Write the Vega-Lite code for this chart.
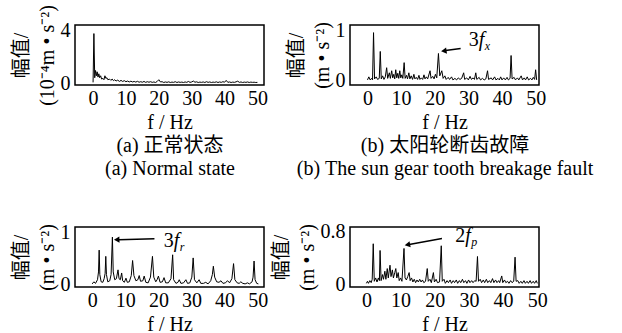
{
  "$schema": "https://vega.github.io/schema/vega-lite/v6.json",
  "background": "white",
  "padding": {"left": 10, "top": 3, "right": 5, "bottom": 5},
  "config": {
    "font": "Liberation Serif, DejaVu Serif, serif",
    "view": {"stroke": "#000", "strokeWidth": 1.5},
    "axis": {"grid": false, "ticks": false, "domain": false, "labelFont": "Liberation Serif, DejaVu Serif, serif", "labelFontSize": 20, "labelColor": "#000", "labelPadding": 3, "titleFont": "Liberation Serif, Noto Sans CJK SC, serif", "titleFontSize": 20, "titleFontWeight": "normal", "titleColor": "#000"},
    "axisX": {"titleLineHeight": 23, "titlePadding": 4},
    "axisY": {"titleLineHeight": 26, "titlePadding": 3, "labelPadding": 5},
    "line": {"color": "#000", "strokeWidth": 1}
  },
  "datasets": {
    "a": [{"f":0,"a":0.05},{"f":0.25,"a":3.75},{"f":0.5,"a":0.4},{"f":0.75,"a":0.95},{"f":1.0,"a":0.55},{"f":1.25,"a":0.85},{"f":1.5,"a":0.45},{"f":1.75,"a":0.7},{"f":2.0,"a":0.4},{"f":2.3,"a":0.55},{"f":2.6,"a":0.3},{"f":3.0,"a":0.35},{"f":3.3,"a":0.25},{"f":3.6,"a":0.55},{"f":3.9,"a":0.35},{"f":4.2,"a":0.4},{"f":4.5,"a":0.25},{"f":5.0,"a":0.3},{"f":5.4,"a":0.2},{"f":5.8,"a":0.3},{"f":6.2,"a":0.18},{"f":6.6,"a":0.25},{"f":7.0,"a":0.15},{"f":7.5,"a":0.22},{"f":8.0,"a":0.12},{"f":8.5,"a":0.2},{"f":9.0,"a":0.12},{"f":9.5,"a":0.18},{"f":10,"a":0.1},{"f":10.5,"a":0.15},{"f":11,"a":0.08},{"f":11.5,"a":0.14},{"f":12,"a":0.08},{"f":12.5,"a":0.12},{"f":13,"a":0.07},{"f":13.5,"a":0.13},{"f":14,"a":0.06},{"f":14.5,"a":0.1},{"f":15,"a":0.06},{"f":15.5,"a":0.12},{"f":16,"a":0.05},{"f":16.5,"a":0.1},{"f":17,"a":0.06},{"f":17.5,"a":0.1},{"f":18,"a":0.05},{"f":18.5,"a":0.08},{"f":19,"a":0.04},{"f":19.5,"a":0.12},{"f":20,"a":0.25},{"f":20.5,"a":0.08},{"f":21,"a":0.1},{"f":21.5,"a":0.04},{"f":22,"a":0.08},{"f":22.5,"a":0.05},{"f":23,"a":0.09},{"f":23.5,"a":0.04},{"f":24,"a":0.07},{"f":24.5,"a":0.05},{"f":25,"a":0.1},{"f":25.5,"a":0.04},{"f":26,"a":0.08},{"f":26.5,"a":0.05},{"f":27,"a":0.07},{"f":27.5,"a":0.04},{"f":28,"a":0.08},{"f":28.5,"a":0.05},{"f":29,"a":0.12},{"f":29.5,"a":0.05},{"f":30,"a":0.08},{"f":30.5,"a":0.15},{"f":31,"a":0.06},{"f":31.5,"a":0.09},{"f":32,"a":0.04},{"f":32.5,"a":0.07},{"f":33,"a":0.05},{"f":33.5,"a":0.08},{"f":34,"a":0.04},{"f":34.5,"a":0.1},{"f":35,"a":0.05},{"f":35.5,"a":0.08},{"f":36,"a":0.04},{"f":36.5,"a":0.07},{"f":37,"a":0.05},{"f":37.5,"a":0.09},{"f":38,"a":0.04},{"f":38.5,"a":0.08},{"f":39,"a":0.05},{"f":39.5,"a":0.1},{"f":40,"a":0.06},{"f":40.5,"a":0.2},{"f":41,"a":0.05},{"f":41.5,"a":0.08},{"f":42,"a":0.04},{"f":42.5,"a":0.07},{"f":43,"a":0.05},{"f":43.5,"a":0.09},{"f":44,"a":0.14},{"f":44.5,"a":0.05},{"f":45,"a":0.08},{"f":45.5,"a":0.04},{"f":46,"a":0.07},{"f":46.5,"a":0.05},{"f":47,"a":0.08},{"f":47.5,"a":0.04},{"f":48,"a":0.07},{"f":48.5,"a":0.05},{"f":49,"a":0.06},{"f":49.5,"a":0.04},{"f":50,"a":0.05}],
    "b": [{"f":0,"a":0.02},{"f":0.4,"a":0.08},{"f":0.8,"a":0.02},{"f":1.2,"a":0.05},{"f":1.5,"a":0.02},{"f":1.8,"a":0.95},{"f":2.1,"a":0.04},{"f":2.6,"a":0.08},{"f":3.0,"a":0.03},{"f":3.5,"a":0.05},{"f":3.8,"a":0.58},{"f":4.1,"a":0.04},{"f":4.5,"a":0.1},{"f":4.9,"a":0.03},{"f":5.3,"a":0.08},{"f":5.7,"a":0.26},{"f":6.0,"a":0.05},{"f":6.5,"a":0.16},{"f":6.8,"a":0.05},{"f":7.2,"a":0.2},{"f":7.5,"a":0.06},{"f":7.8,"a":0.13},{"f":8.1,"a":0.04},{"f":8.4,"a":0.22},{"f":8.7,"a":0.06},{"f":9.0,"a":0.15},{"f":9.3,"a":0.05},{"f":9.6,"a":0.2},{"f":9.9,"a":0.06},{"f":10.2,"a":0.12},{"f":10.5,"a":0.05},{"f":10.9,"a":0.36},{"f":11.2,"a":0.05},{"f":11.6,"a":0.11},{"f":11.9,"a":0.04},{"f":12.3,"a":0.16},{"f":12.6,"a":0.04},{"f":13.0,"a":0.1},{"f":13.4,"a":0.03},{"f":13.8,"a":0.13},{"f":14.1,"a":0.04},{"f":14.5,"a":0.07},{"f":14.9,"a":0.03},{"f":15.3,"a":0.11},{"f":15.6,"a":0.03},{"f":16.0,"a":0.06},{"f":16.4,"a":0.03},{"f":16.8,"a":0.12},{"f":17.1,"a":0.04},{"f":17.5,"a":0.08},{"f":17.9,"a":0.04},{"f":18.6,"a":0.2},{"f":18.9,"a":0.05},{"f":19.4,"a":0.09},{"f":19.8,"a":0.04},{"f":20.2,"a":0.13},{"f":20.6,"a":0.06},{"f":21.1,"a":0.54},{"f":21.5,"a":0.1},{"f":22.1,"a":0.2},{"f":22.5,"a":0.05},{"f":23.0,"a":0.1},{"f":23.4,"a":0.03},{"f":24.0,"a":0.07},{"f":24.4,"a":0.03},{"f":25.0,"a":0.08},{"f":25.4,"a":0.02},{"f":26.0,"a":0.05},{"f":26.5,"a":0.02},{"f":27.0,"a":0.06},{"f":27.5,"a":0.03},{"f":28.0,"a":0.05},{"f":28.6,"a":0.16},{"f":28.9,"a":0.03},{"f":29.5,"a":0.06},{"f":30.0,"a":0.02},{"f":30.5,"a":0.09},{"f":30.9,"a":0.03},{"f":31.4,"a":0.06},{"f":31.8,"a":0.03},{"f":32.2,"a":0.16},{"f":32.5,"a":0.03},{"f":33.2,"a":0.07},{"f":33.6,"a":0.02},{"f":34.2,"a":0.05},{"f":34.7,"a":0.02},{"f":35.2,"a":0.04},{"f":35.7,"a":0.2},{"f":36.0,"a":0.03},{"f":36.8,"a":0.06},{"f":37.2,"a":0.02},{"f":37.8,"a":0.08},{"f":38.2,"a":0.02},{"f":38.8,"a":0.05},{"f":39.2,"a":0.02},{"f":39.6,"a":0.08},{"f":40.0,"a":0.02},{"f":40.5,"a":0.06},{"f":41.0,"a":0.02},{"f":41.5,"a":0.07},{"f":41.9,"a":0.02},{"f":42.4,"a":0.05},{"f":42.7,"a":0.5},{"f":43.0,"a":0.04},{"f":43.6,"a":0.07},{"f":44.0,"a":0.02},{"f":44.6,"a":0.06},{"f":45.0,"a":0.02},{"f":45.7,"a":0.1},{"f":46.1,"a":0.02},{"f":46.6,"a":0.06},{"f":47.0,"a":0.02},{"f":47.5,"a":0.08},{"f":47.9,"a":0.02},{"f":48.5,"a":0.05},{"f":48.9,"a":0.02},{"f":49.3,"a":0.07},{"f":49.7,"a":0.03},{"f":50.0,"a":0.22},{"f":50.3,"a":0.02}],
    "c": [{"f":0,"a":0.02},{"f":0.5,"a":0.06},{"f":1.0,"a":0.03},{"f":1.6,"a":0.1},{"f":1.9,"a":0.25},{"f":2.1,"a":0.67},{"f":2.3,"a":0.2},{"f":2.7,"a":0.06},{"f":3.2,"a":0.05},{"f":3.6,"a":0.12},{"f":3.9,"a":0.22},{"f":4.1,"a":0.55},{"f":4.3,"a":0.2},{"f":4.7,"a":0.06},{"f":5.3,"a":0.08},{"f":5.7,"a":0.2},{"f":6.1,"a":0.92},{"f":6.35,"a":0.25},{"f":6.8,"a":0.1},{"f":7.3,"a":0.12},{"f":7.8,"a":0.29},{"f":8.1,"a":0.12},{"f":8.5,"a":0.1},{"f":8.9,"a":0.23},{"f":9.2,"a":0.08},{"f":9.7,"a":0.05},{"f":10.2,"a":0.13},{"f":10.6,"a":0.05},{"f":11.2,"a":0.06},{"f":11.8,"a":0.18},{"f":12.2,"a":0.47},{"f":12.6,"a":0.18},{"f":13.2,"a":0.08},{"f":13.8,"a":0.1},{"f":14.2,"a":0.18},{"f":14.6,"a":0.07},{"f":15.3,"a":0.08},{"f":15.7,"a":0.17},{"f":16.2,"a":0.05},{"f":16.9,"a":0.04},{"f":17.6,"a":0.15},{"f":18.2,"a":0.55},{"f":18.6,"a":0.15},{"f":19.2,"a":0.06},{"f":19.6,"a":0.1},{"f":20.0,"a":0.17},{"f":20.5,"a":0.05},{"f":21.2,"a":0.06},{"f":21.7,"a":0.14},{"f":22.2,"a":0.04},{"f":23.0,"a":0.04},{"f":23.8,"a":0.12},{"f":24.3,"a":0.58},{"f":24.6,"a":0.1},{"f":25.3,"a":0.03},{"f":25.9,"a":0.05},{"f":26.3,"a":0.1},{"f":26.8,"a":0.03},{"f":27.6,"a":0.04},{"f":28.3,"a":0.1},{"f":28.8,"a":0.03},{"f":29.5,"a":0.04},{"f":30.1,"a":0.15},{"f":30.5,"a":0.52},{"f":30.9,"a":0.1},{"f":31.6,"a":0.04},{"f":32.3,"a":0.1},{"f":32.8,"a":0.03},{"f":33.6,"a":0.03},{"f":34.3,"a":0.05},{"f":35.0,"a":0.02},{"f":35.8,"a":0.08},{"f":36.3,"a":0.2},{"f":36.6,"a":0.36},{"f":37.0,"a":0.15},{"f":37.6,"a":0.06},{"f":38.3,"a":0.05},{"f":38.9,"a":0.08},{"f":39.5,"a":0.03},{"f":40.2,"a":0.04},{"f":40.9,"a":0.08},{"f":41.5,"a":0.04},{"f":42.2,"a":0.12},{"f":42.7,"a":0.41},{"f":43.1,"a":0.1},{"f":43.8,"a":0.04},{"f":44.4,"a":0.03},{"f":44.9,"a":0.06},{"f":45.5,"a":0.03},{"f":46.2,"a":0.02},{"f":46.9,"a":0.04},{"f":47.5,"a":0.02},{"f":48.3,"a":0.06},{"f":48.6,"a":0.15},{"f":48.9,"a":0.46},{"f":49.2,"a":0.1},{"f":49.7,"a":0.03},{"f":50.2,"a":0.02}],
    "d": [{"f":0,"a":0.02},{"f":0.3,"a":0.05},{"f":0.6,"a":0.02},{"f":1.0,"a":0.06},{"f":1.4,"a":0.03},{"f":1.7,"a":0.08},{"f":2.0,"a":0.61},{"f":2.3,"a":0.05},{"f":2.7,"a":0.1},{"f":3.1,"a":0.04},{"f":3.5,"a":0.1},{"f":3.8,"a":0.06},{"f":4.0,"a":0.51},{"f":4.3,"a":0.06},{"f":4.7,"a":0.15},{"f":5.0,"a":0.08},{"f":5.4,"a":0.2},{"f":5.7,"a":0.08},{"f":6.1,"a":0.24},{"f":6.4,"a":0.1},{"f":6.9,"a":0.29},{"f":7.2,"a":0.12},{"f":7.6,"a":0.22},{"f":7.9,"a":0.1},{"f":8.3,"a":0.18},{"f":8.6,"a":0.24},{"f":8.9,"a":0.1},{"f":9.3,"a":0.18},{"f":9.6,"a":0.06},{"f":10.0,"a":0.1},{"f":10.4,"a":0.05},{"f":11.0,"a":0.54},{"f":11.3,"a":0.1},{"f":11.7,"a":0.07},{"f":12.1,"a":0.12},{"f":12.5,"a":0.18},{"f":12.8,"a":0.06},{"f":13.2,"a":0.1},{"f":13.6,"a":0.04},{"f":14.0,"a":0.08},{"f":14.4,"a":0.03},{"f":14.8,"a":0.07},{"f":15.2,"a":0.04},{"f":15.6,"a":0.08},{"f":16.0,"a":0.04},{"f":16.4,"a":0.07},{"f":16.8,"a":0.03},{"f":17.3,"a":0.05},{"f":17.8,"a":0.24},{"f":18.1,"a":0.05},{"f":18.6,"a":0.08},{"f":19.0,"a":0.03},{"f":19.6,"a":0.18},{"f":19.9,"a":0.04},{"f":20.4,"a":0.08},{"f":20.8,"a":0.03},{"f":21.4,"a":0.04},{"f":21.9,"a":0.58},{"f":22.2,"a":0.05},{"f":22.7,"a":0.08},{"f":23.1,"a":0.02},{"f":23.6,"a":0.06},{"f":24.0,"a":0.03},{"f":24.5,"a":0.07},{"f":24.9,"a":0.02},{"f":25.4,"a":0.06},{"f":25.8,"a":0.03},{"f":26.3,"a":0.07},{"f":26.7,"a":0.02},{"f":27.2,"a":0.06},{"f":27.6,"a":0.03},{"f":28.1,"a":0.08},{"f":28.5,"a":0.03},{"f":29.0,"a":0.06},{"f":29.4,"a":0.02},{"f":29.9,"a":0.07},{"f":30.3,"a":0.03},{"f":30.8,"a":0.06},{"f":31.2,"a":0.03},{"f":31.7,"a":0.06},{"f":32.1,"a":0.05},{"f":32.5,"a":0.42},{"f":32.8,"a":0.05},{"f":33.3,"a":0.08},{"f":33.7,"a":0.03},{"f":34.2,"a":0.07},{"f":34.6,"a":0.03},{"f":35.1,"a":0.08},{"f":35.5,"a":0.03},{"f":36.0,"a":0.06},{"f":36.4,"a":0.03},{"f":36.9,"a":0.09},{"f":37.3,"a":0.03},{"f":37.8,"a":0.07},{"f":38.2,"a":0.03},{"f":38.7,"a":0.06},{"f":39.0,"a":0.03},{"f":39.6,"a":0.13},{"f":39.9,"a":0.03},{"f":40.4,"a":0.07},{"f":40.8,"a":0.03},{"f":41.3,"a":0.05},{"f":41.7,"a":0.02},{"f":42.2,"a":0.06},{"f":42.6,"a":0.03},{"f":43.1,"a":0.05},{"f":43.5,"a":0.41},{"f":43.8,"a":0.05},{"f":44.3,"a":0.06},{"f":44.7,"a":0.02},{"f":45.2,"a":0.05},{"f":45.6,"a":0.02},{"f":46.1,"a":0.06},{"f":46.5,"a":0.02},{"f":47.0,"a":0.05},{"f":47.4,"a":0.02},{"f":47.9,"a":0.06},{"f":48.3,"a":0.02},{"f":48.8,"a":0.05},{"f":49.2,"a":0.02},{"f":49.7,"a":0.06},{"f":50.0,"a":0.02}]
  },
  "columns": 2,
  "bounds": "flush",
  "spacing": {"row": 142, "column": 86},
  "concat": [
    {
      "width": 189, "height": 60,
      "data": {"name": "a"},
      "mark": {"type": "line"},
      "encoding": {
        "x": {"field": "f", "type": "quantitative", "scale": {"domain": [-5.5, 52], "nice": false, "zero": false}, "axis": {"values": [0, 10, 20, 30, 40, 50], "title": ["f / Hz", "(a)  正常状态", "(a)  Normal state"]}},
        "y": {"field": "a", "type": "quantitative", "scale": {"domain": [-0.15, 4.4], "nice": false, "zero": false}, "axis": {"values": [0, 4], "format": "d", "title": ["幅值/", "(10⁻⁴m • s⁻²)"]}}
      }
    },
    {
      "width": 189, "height": 60,
      "encoding": {
        "x": {"field": "f", "type": "quantitative", "scale": {"domain": [-5.2, 51], "nice": false, "zero": false}, "axis": {"values": [0, 10, 20, 30, 40, 50], "title": ["f / Hz", "(b)  太阳轮断齿故障", "(b)  The sun gear tooth breakage fault"]}},
        "y": {"field": "a", "type": "quantitative", "scale": {"domain": [-0.08, 1.1], "nice": false, "zero": false}, "axis": {"values": [0, 1], "format": "d", "title": ["幅值/", "(m • s⁻²)"]}}
      },
      "layer": [
        {"data": {"name": "b"}, "mark": {"type": "line"}},
        {"data": {"values": [{"f": 27.7, "a": 0.64, "f2": 23.2, "a2": 0.6}]}, "mark": {"type": "rule", "color": "#000", "strokeWidth": 1.5}, "encoding": {"x2": {"field": "f2"}, "y2": {"field": "a2"}}},
        {"data": {"values": [{"f": 22.7, "a": 0.59}]}, "mark": {"type": "point", "shape": "triangle-left", "filled": true, "color": "#000", "size": 40, "angle": 352, "opacity": 1}},
        {"data": {"values": [{"f": 30.1, "a": 0.8}]}, "mark": {"type": "text", "text": "3", "align": "left", "baseline": "middle", "fontSize": 20, "color": "#000"}},
        {"data": {"values": [{"f": 30.1, "a": 0.8}]}, "mark": {"type": "text", "text": "f", "align": "left", "baseline": "middle", "fontSize": 20, "fontStyle": "italic", "dx": 10, "color": "#000"}},
        {"data": {"values": [{"f": 30.1, "a": 0.8}]}, "mark": {"type": "text", "text": "x", "align": "left", "baseline": "middle", "fontSize": 12, "fontStyle": "italic", "dx": 16, "dy": 6, "color": "#000"}}
      ]
    },
    {
      "width": 189, "height": 60,
      "encoding": {
        "x": {"field": "f", "type": "quantitative", "scale": {"domain": [-5.2, 51.9], "nice": false, "zero": false}, "axis": {"values": [0, 10, 20, 30, 40, 50], "title": "f / Hz"}},
        "y": {"field": "a", "type": "quantitative", "scale": {"domain": [-0.04, 1.115], "nice": false, "zero": false}, "axis": {"values": [0, 1], "format": "d", "title": ["幅值/", "(m • s⁻²)"]}}
      },
      "layer": [
        {"data": {"name": "c"}, "mark": {"type": "line"}},
        {"data": {"values": [{"f": 18.8, "a": 0.89, "f2": 8.0, "a2": 0.87}]}, "mark": {"type": "rule", "color": "#000", "strokeWidth": 1.5}, "encoding": {"x2": {"field": "f2"}, "y2": {"field": "a2"}}},
        {"data": {"values": [{"f": 7.4, "a": 0.87}]}, "mark": {"type": "point", "shape": "triangle-left", "filled": true, "color": "#000", "size": 40, "angle": 358, "opacity": 1}},
        {"data": {"values": [{"f": 21.6, "a": 0.84}]}, "mark": {"type": "text", "text": "3", "align": "left", "baseline": "middle", "fontSize": 20, "color": "#000"}},
        {"data": {"values": [{"f": 21.6, "a": 0.84}]}, "mark": {"type": "text", "text": "f", "align": "left", "baseline": "middle", "fontSize": 20, "fontStyle": "italic", "dx": 10, "color": "#000"}},
        {"data": {"values": [{"f": 21.6, "a": 0.84}]}, "mark": {"type": "text", "text": "r", "align": "left", "baseline": "middle", "fontSize": 12, "fontStyle": "italic", "dx": 16, "dy": 6, "color": "#000"}}
      ]
    },
    {
      "width": 189, "height": 60,
      "encoding": {
        "x": {"field": "f", "type": "quantitative", "scale": {"domain": [-4.8, 50.5], "nice": false, "zero": false}, "axis": {"values": [0, 10, 20, 30, 40, 50], "title": "f / Hz"}},
        "y": {"field": "a", "type": "quantitative", "scale": {"domain": [-0.035, 0.86], "nice": false, "zero": false}, "axis": {"values": [0, 0.8], "format": ".1~f", "title": ["幅值/", "(m • s⁻²)"]}}
      },
      "layer": [
        {"data": {"name": "d"}, "mark": {"type": "line"}},
        {"data": {"values": [{"f": 22.1, "a": 0.69, "f2": 12.5, "a2": 0.6}]}, "mark": {"type": "rule", "color": "#000", "strokeWidth": 1.5}, "encoding": {"x2": {"field": "f2"}, "y2": {"field": "a2"}}},
        {"data": {"values": [{"f": 12.0, "a": 0.595}]}, "mark": {"type": "point", "shape": "triangle-left", "filled": true, "color": "#000", "size": 40, "angle": 349, "opacity": 1}},
        {"data": {"values": [{"f": 26.0, "a": 0.72}]}, "mark": {"type": "text", "text": "2", "align": "left", "baseline": "middle", "fontSize": 20, "color": "#000"}},
        {"data": {"values": [{"f": 26.0, "a": 0.72}]}, "mark": {"type": "text", "text": "f", "align": "left", "baseline": "middle", "fontSize": 20, "fontStyle": "italic", "dx": 10, "color": "#000"}},
        {"data": {"values": [{"f": 26.0, "a": 0.72}]}, "mark": {"type": "text", "text": "p", "align": "left", "baseline": "middle", "fontSize": 12, "fontStyle": "italic", "dx": 16, "dy": 6, "color": "#000"}}
      ]
    }
  ]
}
